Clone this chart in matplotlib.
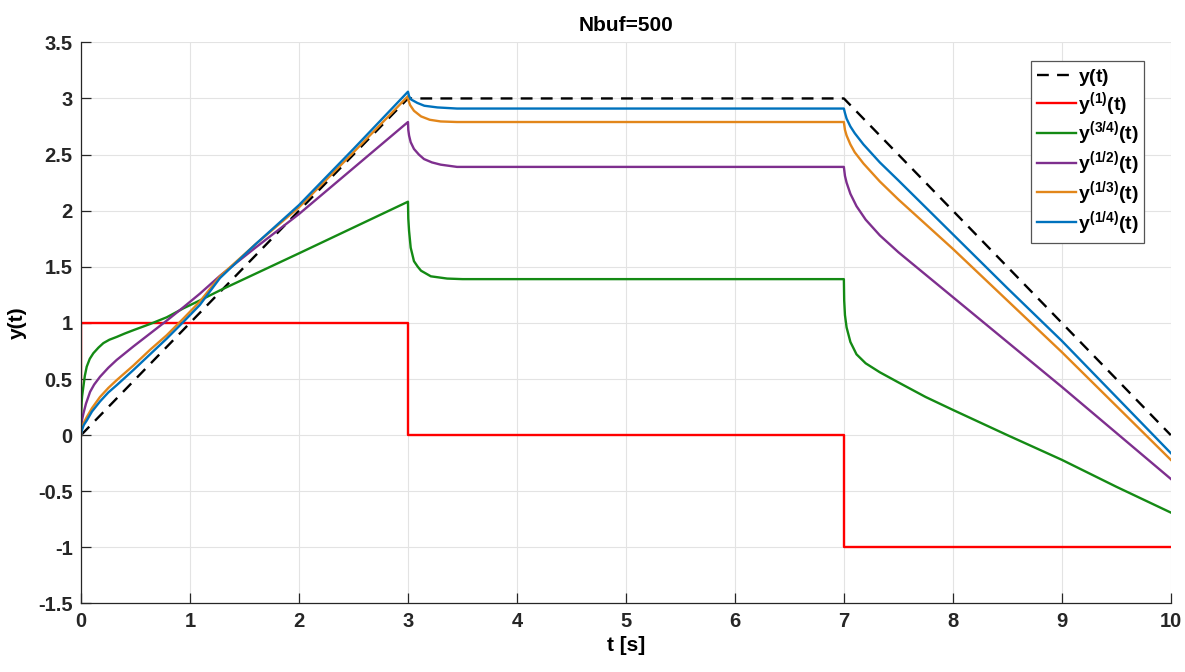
import matplotlib
matplotlib.use("Agg")
import matplotlib.pyplot as plt

plt.rcParams['font.family'] = ['Liberation Sans', 'DejaVu Sans']
plt.rcParams['font.weight'] = 'bold'
plt.rcParams['mathtext.fontset'] = 'custom'
plt.rcParams['mathtext.rm'] = 'Liberation Sans:bold'
plt.rcParams['mathtext.it'] = 'Liberation Sans:bold'
plt.rcParams['mathtext.bf'] = 'Liberation Sans:bold'

# y(t) - trapez
t_ref = [0, 3, 7, 10]
y_ref = [0, 3, 3, 0]

# pochodna rzedu 1
t_d1 = [0, 0, 3, 3, 7, 7, 10]
y_d1 = [0, 1, 1, 0, 0, -1, -1]

# rzad 3/4
t_d34 = [0, 0.001, 0.005, 0.01, 0.021, 0.035, 0.052, 0.08, 0.113, 0.16, 0.205, 0.26, 0.327, 0.4,
         0.48, 0.633, 0.786, 0.94, 1.09, 1.275, 2.0, 3.0,
         3.003, 3.01, 3.025, 3.055, 3.09, 3.12, 3.21, 3.36, 3.5,
         7.0, 7.003, 7.01, 7.025, 7.06, 7.116, 7.2, 7.33, 7.5, 7.75, 8.0, 8.5, 9.0, 9.5, 10.0]
y_d34 = [0, 0.19, 0.29, 0.35, 0.43, 0.53, 0.61, 0.68, 0.73, 0.78, 0.82, 0.85, 0.875, 0.905,
         0.935, 0.99, 1.05, 1.13, 1.20, 1.29, 1.62, 2.08,
         1.93, 1.82, 1.67, 1.55, 1.50, 1.465, 1.415, 1.395, 1.39,
         1.39, 1.2, 1.07, 0.96, 0.83, 0.72, 0.64, 0.56, 0.47, 0.34, 0.225, 0.0, -0.22, -0.46, -0.69]

# rzad 1/2
t_d12 = [0, 0.002, 0.005, 0.01, 0.021, 0.045, 0.083, 0.12, 0.174, 0.25, 0.327, 0.48, 0.633,
         0.786, 0.94, 1.09, 1.275, 1.6, 2.0, 2.5, 3.0,
         3.003, 3.01, 3.025, 3.055, 3.1, 3.147, 3.22, 3.3, 3.45,
         7.0, 7.01, 7.025, 7.06, 7.116, 7.2, 7.33, 7.5, 7.75, 8.0, 8.5, 9.0, 9.5, 10.0]
y_d12 = [0, 0.07, 0.1, 0.14, 0.19, 0.28, 0.386, 0.45, 0.52, 0.6, 0.67, 0.79, 0.905,
         1.02, 1.14, 1.26, 1.42, 1.67, 1.97, 2.38, 2.79,
         2.72, 2.67, 2.61, 2.55, 2.50, 2.46, 2.43, 2.41, 2.39,
         2.39, 2.31, 2.25, 2.15, 2.04, 1.92, 1.78, 1.63, 1.43, 1.23, 0.83, 0.43, 0.02, -0.39]

# rzad 1/3
t_d13 = [0, 0.002, 0.01, 0.025, 0.052, 0.1, 0.174, 0.25, 0.327, 0.48, 0.633, 0.786, 0.94, 1.09,
         1.275, 1.6, 2.0, 2.5, 3.0,
         3.005, 3.02, 3.055, 3.12, 3.2, 3.3, 3.45,
         7.0, 7.01, 7.025, 7.06, 7.1, 7.18, 7.33, 7.5, 7.75, 8.0, 8.5, 9.0, 9.5, 10.0]
y_d13 = [0, 0.03, 0.07, 0.11, 0.16, 0.24, 0.34, 0.42, 0.49, 0.62, 0.76, 0.89, 1.04, 1.19,
         1.415, 1.70, 2.03, 2.52, 3.02,
         2.98, 2.94, 2.89, 2.84, 2.81, 2.795, 2.79,
         2.79, 2.72, 2.67, 2.59, 2.52, 2.42, 2.26, 2.10, 1.88, 1.66, 1.20, 0.74, 0.26, -0.22]

# rzad 1/4
t_d14 = [0, 0.002, 0.01, 0.025, 0.052, 0.1, 0.174, 0.25, 0.327, 0.48, 0.633, 0.786, 0.94, 1.09,
         1.275, 1.6, 2.0, 2.5, 3.0,
         3.01, 3.03, 3.086, 3.15, 3.27, 3.45,
         7.0, 7.01, 7.025, 7.06, 7.1, 7.18, 7.33, 7.5, 7.75, 8.0, 8.5, 9.0, 9.5, 10.0]
y_d14 = [0, 0.02, 0.05, 0.09, 0.13, 0.21, 0.30, 0.38, 0.445, 0.58, 0.72, 0.86, 1.01, 1.16,
         1.40, 1.70, 2.05, 2.55, 3.06,
         3.02, 2.99, 2.96, 2.935, 2.92, 2.91,
         2.91, 2.87, 2.82, 2.75, 2.69, 2.59, 2.43, 2.27, 2.03, 1.79, 1.31, 0.84, 0.34, -0.16]

fig = plt.figure(figsize=(11.85, 6.72), dpi=100)
ax = fig.add_subplot(111)
fig.subplots_adjust(left=0.0684, right=0.988, bottom=0.102, top=0.937)

lw = 1.7
ax.plot(t_ref, y_ref, 'k--', lw=lw, dashes=(5, 3.5), label='$y(t)$')
ax.plot(t_d1, y_d1, color='#FF0000', lw=lw, label='$y^{(1)}(t)$')
ax.plot(t_d34, y_d34, color='#148A14', lw=lw, label='$y^{(3/4)}(t)$')
ax.plot(t_d12, y_d12, color='#7E2F8E', lw=lw, label='$y^{(1/2)}(t)$')
ax.plot(t_d13, y_d13, color='#E2861A', lw=lw, label='$y^{(1/3)}(t)$')
ax.plot(t_d14, y_d14, color='#0072BD', lw=lw, label='$y^{(1/4)}(t)$')

ax.set_xlim(0, 10)
ax.set_ylim(-1.5, 3.5)
ax.set_xticks(range(0, 11))
ax.set_yticks([-1.5, -1, -0.5, 0, 0.5, 1, 1.5, 2, 2.5, 3, 3.5])
ax.set_yticklabels(['-1.5', '-1', '-0.5', '0', '0.5', '1', '1.5', '2', '2.5', '3', '3.5'])
ax.grid(True, color='#E3E3E3', lw=0.8)
ax.set_axisbelow(True)
for s in ['top', 'right']:
    ax.spines[s].set_visible(False)
for s in ['left', 'bottom']:
    ax.spines[s].set_color('#262626')
    ax.spines[s].set_linewidth(0.9)
ax.tick_params(direction='in', length=7, width=0.9, colors='#262626', labelsize=14.5)
ax.tick_params(axis='y', pad=6)
ax.tick_params(axis='x', pad=6)
for lab in ax.get_xticklabels() + ax.get_yticklabels():
    lab.set_fontweight('bold')

ax.set_title('Nbuf=500', fontsize=15, fontweight='bold', pad=8)
ax.set_xlabel('t [s]', fontsize=15, fontweight='bold', labelpad=4)
ax.set_ylabel('y(t)', fontsize=15, fontweight='bold', labelpad=8)

leg = ax.legend(loc='upper right', bbox_to_anchor=(0.9755, 0.967), fontsize=14,
                frameon=True, fancybox=False, framealpha=1, edgecolor='#555555',
                handlelength=2.0, handletextpad=0.1, labelspacing=0.1, borderpad=0.3,
                borderaxespad=0)
leg.get_frame().set_linewidth(0.9)

fig.savefig('out.png', dpi=100)
